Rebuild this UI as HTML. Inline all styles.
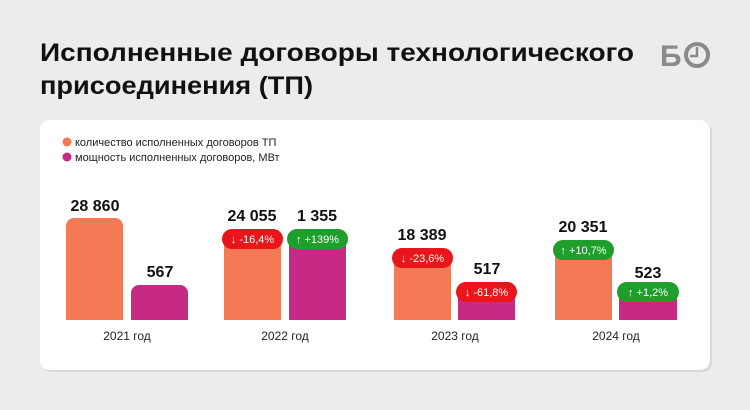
<!DOCTYPE html>
<html><head><meta charset="utf-8"><style>
html,body{margin:0;padding:0;background:#ececec;}
svg{display:block;font-family:"Liberation Sans",sans-serif;}
</style></head><body>
<svg width="750" height="410" viewBox="0 0 750 410" xmlns="http://www.w3.org/2000/svg">
<rect width="750" height="410" fill="#ececec"/>
<text x="40" y="61" font-size="25" font-weight="bold" fill="#111" textLength="594" lengthAdjust="spacingAndGlyphs">Исполненные договоры технологического</text>
<text x="40" y="94" font-size="25" font-weight="bold" fill="#111" textLength="273" lengthAdjust="spacingAndGlyphs">присоединения (ТП)</text>
<!-- logo -->
<text x="660" y="66" font-size="30" font-weight="bold" fill="#8a8a8a">Б</text>
<circle cx="697" cy="55" r="11" fill="none" stroke="#8a8a8a" stroke-width="4"/>
<path d="M697 47 V56 H690" fill="none" stroke="#8a8a8a" stroke-width="2.5"/>
<!-- card -->
<rect x="42" y="122" width="670" height="250" rx="10" fill="#d8d8d8"/>
<rect x="40" y="120" width="670" height="250" rx="10" fill="#fff"/>
<circle cx="67" cy="142" r="4.5" fill="#f47a55"/>
<circle cx="67" cy="157" r="4.5" fill="#c72a85"/>
<text x="75" y="146" font-size="11" fill="#222">количество исполненных договоров ТП</text>
<text x="75" y="161" font-size="11" fill="#222">мощность исполненных договоров, МВт</text>
<g fill="#f47a55">
<path d="M66 320 V226 a8 8 0 0 1 8 -8 H115 a8 8 0 0 1 8 8 V320Z"/>
<path d="M224 320 V237 a8 8 0 0 1 8 -8 H273 a8 8 0 0 1 8 8 V320Z"/>
<path d="M394 320 V256 a8 8 0 0 1 8 -8 H443 a8 8 0 0 1 8 8 V320Z"/>
<path d="M555 320 V248 a8 8 0 0 1 8 -8 H604 a8 8 0 0 1 8 8 V320Z"/>
</g>
<g fill="#c72a85">
<path d="M131 320 V293 a8 8 0 0 1 8 -8 H180 a8 8 0 0 1 8 8 V320Z"/>
<path d="M289 320 V237 a8 8 0 0 1 8 -8 H338 a8 8 0 0 1 8 8 V320Z"/>
<path d="M458 320 V290 a8 8 0 0 1 8 -8 H507 a8 8 0 0 1 8 8 V320Z"/>
<path d="M619 320 V290 a8 8 0 0 1 8 -8 H669 a8 8 0 0 1 8 8 V320Z"/>
</g>
<g font-size="11" fill="#fff" text-anchor="middle">
<rect x="222" y="229" width="61" height="20" rx="10" fill="#e8161a"/><text x="252.5" y="243">↓ -16,4%</text>
<rect x="287" y="229" width="61" height="20" rx="10" fill="#1e9e2a"/><text x="317.5" y="243">↑ +139%</text>
<rect x="392" y="248" width="61" height="20" rx="10" fill="#e8161a"/><text x="422.5" y="262">↓ -23,6%</text>
<rect x="456" y="282" width="61" height="20" rx="10" fill="#e8161a"/><text x="486.5" y="296">↓ -61,8%</text>
<rect x="553" y="240" width="61" height="20" rx="10" fill="#1e9e2a"/><text x="583.5" y="254">↑ +10,7%</text>
<rect x="617" y="282" width="62" height="20" rx="10" fill="#1e9e2a"/><text x="648" y="296">↑ +1,2%</text>
</g>
<g font-size="16" font-weight="bold" fill="#111" text-anchor="middle">
<text x="95" y="211">28 860</text>
<text x="160" y="277">567</text>
<text x="252" y="221">24 055</text>
<text x="317" y="221">1 355</text>
<text x="422" y="240">18 389</text>
<text x="487" y="274">517</text>
<text x="583" y="232">20 351</text>
<text x="648" y="278">523</text>
</g>
<g font-size="12" fill="#222" text-anchor="middle">
<text x="127" y="340">2021 год</text>
<text x="285" y="340">2022 год</text>
<text x="455" y="340">2023 год</text>
<text x="616" y="340">2024 год</text>
</g>
</svg>
</body></html>
